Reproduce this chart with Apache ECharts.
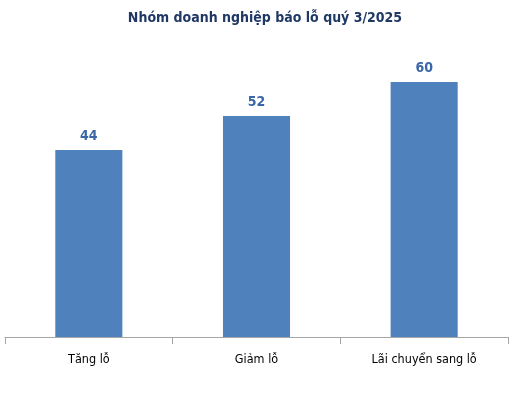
<!DOCTYPE html>
<html>
<head>
<meta charset="utf-8">
<script src="https://cdn.jsdelivr.net/npm/echarts@6/dist/echarts.min.js"></script>
<style>
  html, body { margin: 0; padding: 0; background: #fff; }
  #chart { width: 530px; height: 399px; }
</style>
</head>
<body>
<div id="chart"></div>
<script>
const categories = ['Tăng lỗ', 'Giảm lỗ', 'Lãi chuyển sang lỗ']
const values = [44, 52, 60]
const fontFamily = '"DejaVu Sans Condensed", "Roboto", sans-serif'

let myChart = echarts.init(document.getElementById('chart'))
myChart.setOption({
  textStyle: { fontFamily: fontFamily },
  title: {
    text: 'Nhóm doanh nghiệp báo lỗ quý 3/2025',
    left: 'center',
    top: 6,
    textStyle: {
      color: '#1f3864',
      fontSize: 14,
      fontWeight: 'bold',
      fontFamily: fontFamily
    }
  },
  grid: {
    left: 5,
    right: 22,
    top: 39.5,
    bottom: 62
  },
  xAxis: {
    type: 'category',
    data: categories,
    axisLine: { lineStyle: { color: '#a6a6a6', width: 1 } },
    axisTick: { show: true, length: 7, lineStyle: { color: '#a6a6a6' } },
    axisLabel: {
      color: '#000',
      fontSize: 12.5,
      margin: 16,
      fontFamily: fontFamily
    }
  },
  yAxis: {
    type: 'value',
    min: 0,
    max: 70,
    show: false,
    splitLine: { show: false }
  },
  series: [{
    type: 'bar',
    data: values,
    barWidth: '40%',
    itemStyle: { color: '#4f81bd' },
    label: {
      show: true,
      position: 'top',
      distance: 7,
      color: '#3a66a8',
      fontSize: 14,
      fontWeight: 'bold',
      fontFamily: fontFamily
    }
  }]
})
</script>
</body>
</html>
